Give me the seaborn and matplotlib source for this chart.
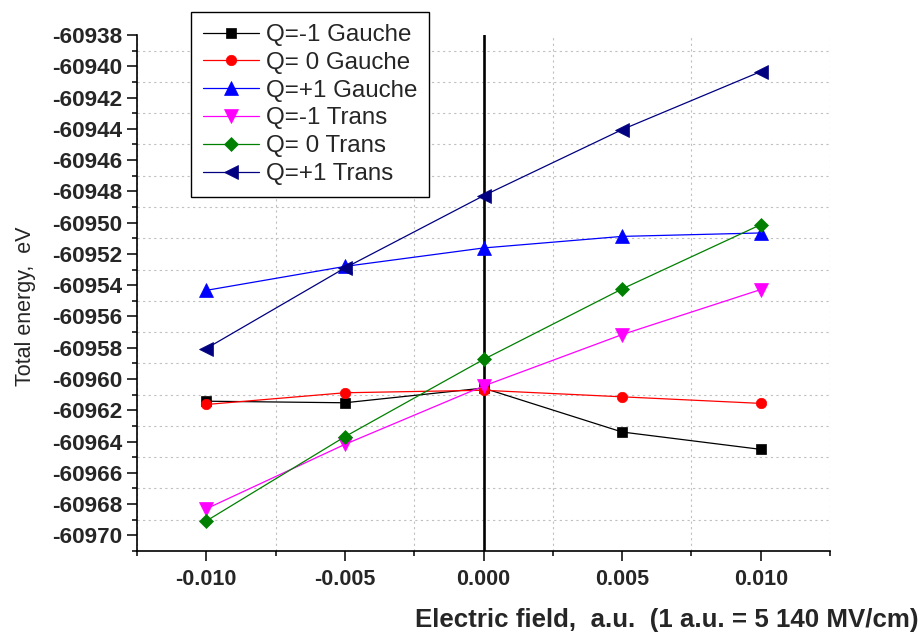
import numpy as np
import pandas as pd
import matplotlib
matplotlib.use("Agg")
import matplotlib.pyplot as plt
from matplotlib.ticker import MultipleLocator, FormatStrFormatter
import seaborn as sns

# ---- data ----
field = [-0.010, -0.005, 0.000, 0.005, 0.010]
q_m1_gauche = [-60961.42, -60961.52, -60960.58, -60963.39, -60964.50]
q_0_gauche = [-60961.63, -60960.88, -60960.72, -60961.14, -60961.56]
q_p1_gauche = [-60954.33, -60952.80, -60951.62, -60950.88, -60950.66]
q_m1_trans = [-60968.30, -60964.18, -60960.45, -60957.16, -60954.28]
q_0_trans = [-60969.08, -60963.69, -60958.75, -60954.24, -60950.13]
q_p1_trans = [-60958.05, -60952.90, -60948.28, -60944.05, -60940.34]

labels = ["Q=-1 Gauche", "Q= 0 Gauche", "Q=+1 Gauche",
          "Q=-1 Trans", "Q= 0 Trans", "Q=+1 Trans"]
series = [q_m1_gauche, q_0_gauche, q_p1_gauche, q_m1_trans, q_0_trans, q_p1_trans]

colors = ["#000000", "#FF0000", "#0000FF", "#FF00FF", "#008000", "#000080"]
markers = ["s", "o", "^", "v", "D", "<"]
msizes = [7.3, 7.5, 10, 10, 7.6, 10]

sns.set_style("white")
plt.rcParams["font.family"] = ["Liberation Sans", "DejaVu Sans"]

fig = plt.figure(figsize=(9.23, 6.33), dpi=100)
ax = fig.add_axes([137/923, 1-551/633, (830-137)/923, (551-35)/633])

ax.axvline(0, color="black", lw=1.9, zorder=1.5)

for lab, vals, c, m, ms in zip(labels, series, colors, markers, msizes):
    df = pd.DataFrame({"x": field, "y": vals})
    sns.lineplot(data=df, x="x", y="y", ax=ax, color=c, marker=m,
                 markersize=ms, markeredgecolor=c, markeredgewidth=0.5,
                 linewidth=0.9, label=lab, zorder=3, sort=False)

ax.set_xlim(-0.0125, 0.0125)
ax.set_ylim(-60971, -60938)

ax.xaxis.set_major_locator(MultipleLocator(0.005))
ax.xaxis.set_minor_locator(MultipleLocator(0.0025))
ax.xaxis.set_major_formatter(FormatStrFormatter("%.3f"))
ax.yaxis.set_major_locator(MultipleLocator(2))
ax.yaxis.set_minor_locator(MultipleLocator(1))
ax.yaxis.set_major_formatter(FormatStrFormatter("%d"))

# grid on minor positions only
ax.grid(False)
ax.grid(which="minor", color="#c0c0c0", linestyle=(0, (2, 3)), linewidth=0.8)
ax.set_axisbelow(True)

for s in ["top", "right"]:
    ax.spines[s].set_visible(False)
for s in ["left", "bottom"]:
    ax.spines[s].set_color("black")
    ax.spines[s].set_linewidth(1.2)

ax.tick_params(which="major", direction="out", length=7, width=1.1,
               color="black", left=True, bottom=True)
ax.tick_params(which="minor", direction="out", length=3.5, width=1.1,
               color="black", left=True, bottom=True)
ax.tick_params(axis="y", which="major", pad=3.5)
ax.tick_params(axis="x", which="major", pad=6)
for t in ax.get_xticklabels():
    t.set_fontsize(15.5)
    t.set_fontweight("bold")
for t in ax.get_yticklabels():
    t.set_fontsize(16.2)
    t.set_fontweight("bold")

ax.set_ylabel("Total energy,  eV", fontsize=15.5)
ax.yaxis.set_label_coords(-0.146, 0.475)
ax.set_xlabel("Electric field,  a.u.  (1 a.u. = 5 140 MV/cm)",
              fontsize=18.6, fontweight="bold", ha="right")
ax.xaxis.set_label_coords((919-137)/693, -0.11)

leg = ax.legend(loc="upper left", bbox_to_anchor=(191/923, 1-12/633),
                bbox_transform=fig.transFigure, borderaxespad=0,
                fontsize=17.4, frameon=True, fancybox=False, framealpha=1,
                edgecolor="black", handlelength=2.3, handletextpad=0.3,
                labelspacing=0.24, borderpad=0.5)
leg.get_frame().set_linewidth(1.0)
leg.set_zorder(10)

fig.savefig("out.png", dpi=100)
